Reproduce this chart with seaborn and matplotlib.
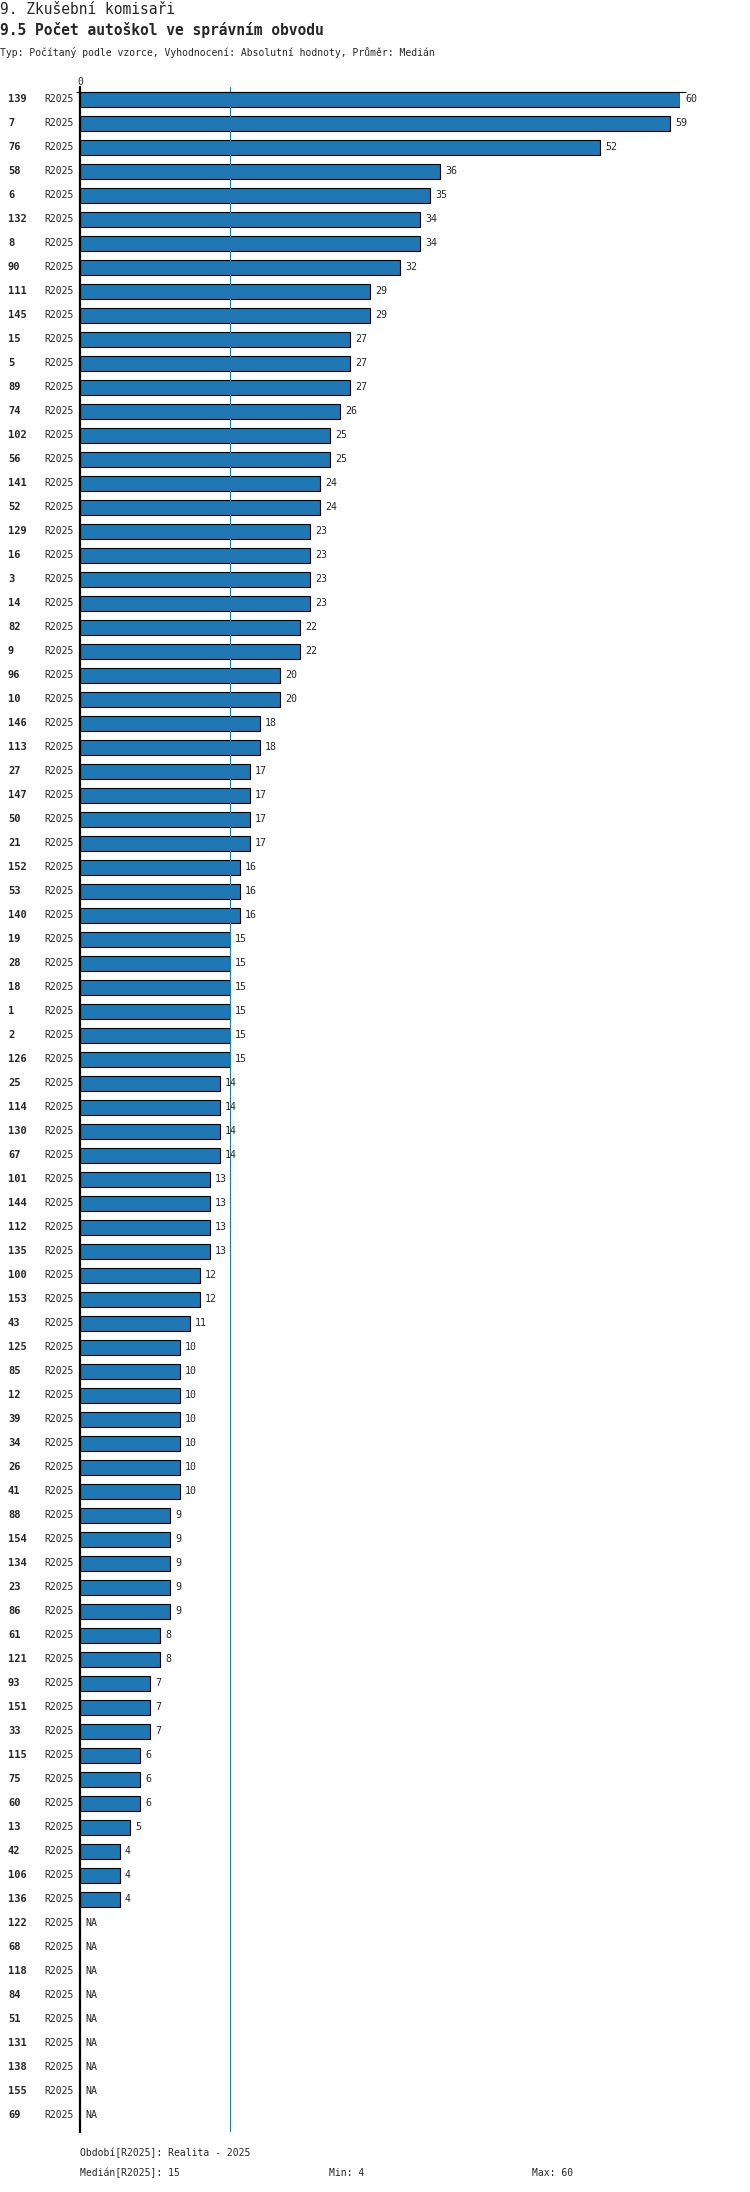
import pandas as pd
import numpy as np
import seaborn as sns
from matplotlib import pyplot as plt
from matplotlib import transforms

# Data (NA = no value)
ids = ['139', '7', '76', '58', '6', '132', '8', '90', '111', '145',
       '15', '5', '89', '74', '102', '56', '141', '52', '129', '16',
       '3', '14', '82', '9', '96', '10', '146', '113', '27', '147',
       '50', '21', '152', '53', '140', '19', '28', '18', '1', '2',
       '126', '25', '114', '130', '67', '101', '144', '112', '135', '100',
       '153', '43', '125', '85', '12', '39', '34', '26', '41', '88',
       '154', '134', '23', '86', '61', '121', '93', '151', '33', '115',
       '75', '60', '13', '42', '106', '136',
       '122', '68', '118', '84', '51', '131', '138', '155', '69']
values = [60, 59, 52, 36, 35, 34, 34, 32, 29, 29,
          27, 27, 27, 26, 25, 25, 24, 24, 23, 23,
          23, 23, 22, 22, 20, 20, 18, 18, 17, 17,
          17, 17, 16, 16, 16, 15, 15, 15, 15, 15,
          15, 14, 14, 14, 14, 13, 13, 13, 13, 12,
          12, 11, 10, 10, 10, 10, 10, 10, 10, 9,
          9, 9, 9, 9, 8, 8, 7, 7, 7, 6,
          6, 6, 5, 4, 4, 4,
          np.nan, np.nan, np.nan, np.nan, np.nan, np.nan, np.nan, np.nan, np.nan]
period = 'R2025'
median = 15

df = pd.DataFrame({'id': ids, 'value': values})

sns.set_style('white')
plt.rcParams['font.family'] = ['DejaVu Sans Mono']

W, H = 750, 2192
fig = plt.figure(figsize=(W / 100, H / 100), dpi=100)

# axes placed in pixel terms: x 80..680, y 87..2132
left, right, top, bottom = 80, 680, 87, 2132
ax = fig.add_axes([left / W, 1 - bottom / H, (right - left) / W, (bottom - top) / H])

sns.barplot(data=df, x='value', y='id', order=ids, orient='h',
            color='#1f77b4', saturation=1, width=0.625,
            edgecolor='black', linewidth=0.8, errorbar=None, ax=ax)

n = len(ids)
ax.set_xlim(0, 60)
ax.set_ylim(n - 1 + 0.69, -0.52)
ax.set_xticks([])
ax.set_yticks([])
ax.set_xlabel('')
ax.set_ylabel('')
for s in ['top', 'right', 'bottom']:
    ax.spines[s].set_visible(False)
ax.spines['left'].set_linewidth(1.6)
ax.spines['left'].set_color('black')

# median line
ax.axvline(median, color='#1f77b4', linewidth=0.8)
# top rule and tick
ax.hlines(-0.3125, -0.4, 60.6, color='black', linewidth=0.8, clip_on=False)
ax.text(0, -0.52, '0', ha='center', va='bottom', fontsize=7)

# row labels
trans = transforms.blended_transform_factory(fig.transFigure, ax.transData)
for i, (rid, v) in enumerate(zip(ids, values)):
    ax.text(8 / W, i, rid, transform=trans, ha='left', va='center',
            fontsize=7.5, fontweight='bold')
    ax.text(44 / W, i, period, transform=trans, ha='left', va='center', fontsize=7)
    if np.isnan(v):
        ax.text(0.5, i, 'NA', ha='left', va='center', fontsize=7.2)
    else:
        ax.text(v + 0.5, i, str(int(v)), ha='left', va='center', fontsize=7.2)

# headings
fig.text(0, 1 - 9 / H, '9. Zkušební komisaři', ha='left', va='center', fontsize=10.5)
fig.text(0, 1 - 30 / H, '9.5 Počet autoškol ve správním obvodu', ha='left', va='center',
         fontsize=10.5, fontweight='bold')
fig.text(0, 1 - 52 / H,
         'Typ: Počítaný podle vzorce, Vyhodnocení: Absolutní hodnoty, Průměr: Medián',
         ha='left', va='center', fontsize=7)

# footer
fig.text(80 / W, 1 - 2153 / H, 'Období[R2025]: Realita - 2025', ha='left', va='center', fontsize=7)
fig.text(80 / W, 1 - 2173 / H, 'Medián[R2025]: 15', ha='left', va='center', fontsize=7)
fig.text(329 / W, 1 - 2173 / H, 'Min: 4', ha='left', va='center', fontsize=7)
fig.text(532 / W, 1 - 2173 / H, 'Max: 60', ha='left', va='center', fontsize=7)

fig.savefig('out.png', dpi=100)
